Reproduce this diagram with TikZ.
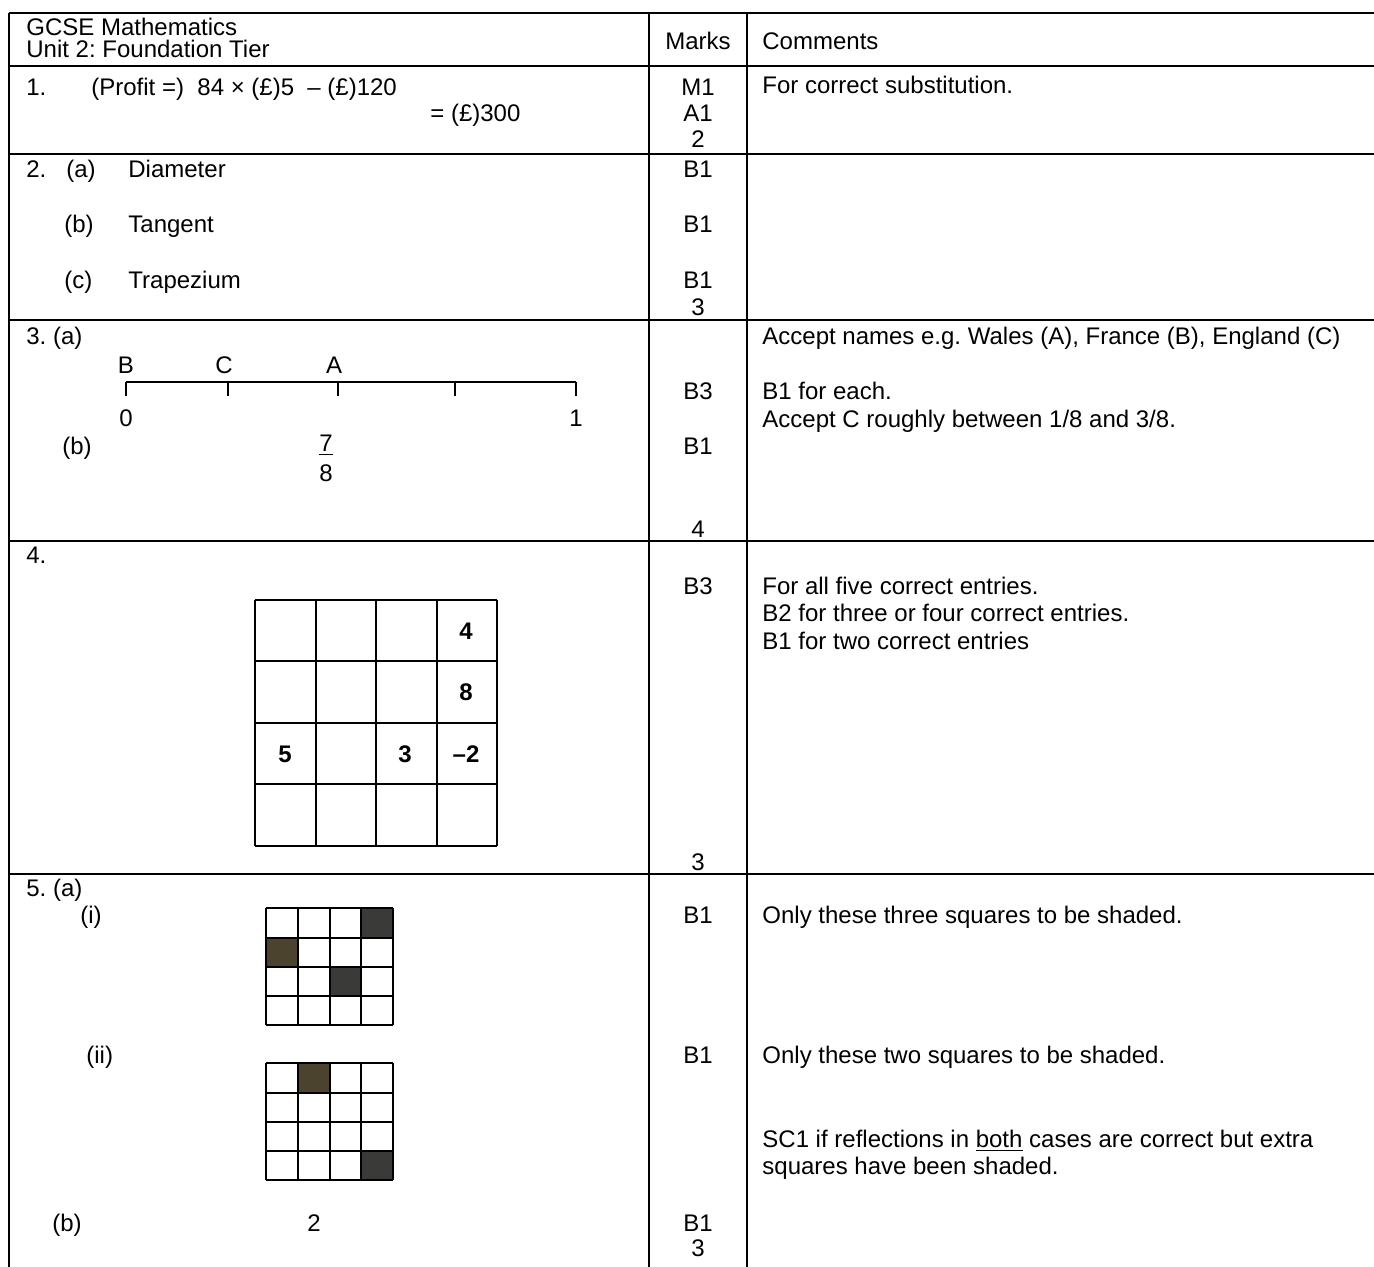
\documentclass[tikz,border=0pt]{standalone}
\usepackage{fontspec}
\setmainfont{Liberation Sans}
\usetikzlibrary{positioning}
\frenchspacing
\definecolor{darksq}{HTML}{3A3A38}
\definecolor{olivesq}{HTML}{4B432D}
\tikzstyle{txt}=[inner sep=0pt,anchor=mid west,yshift=-1.5pt]
\tikzstyle{ctr}=[inner sep=0pt,anchor=mid,yshift=-1.5pt]
\tikzstyle{tabline}=[line width=1pt]
\newcommand{\markcell}[3]{\node[ctr] (#1) at (698,#2) {#3};}
\newcommand{\cmt}[3]{\node[txt] (#1) at (762,#2) {#3};}
\newcommand{\smallgrid}[1]{
    \foreach \gx in {266,298,330,361,393} \draw[tabline] (\gx,#1) -- (\gx,#1+117);
    \foreach \gy in {0,30,59,88,117} \draw[tabline] (266,#1+\gy) -- (393,#1+\gy);}

\begin{document}
\begin{tikzpicture}[x=0.5pt,y=-0.5pt,every node/.style={font=\fontsize{12}{14}\selectfont}]
    \useasboundingbox (0,0) rectangle (1374,1267);
    % table rules
    \foreach \ry in {13,66,154,320,541,874} \draw[tabline] (9,\ry) -- (1374,\ry);
    \foreach \rx in {9,649,747} \draw[tabline] (\rx,13) -- (\rx,1267);

    \node[txt] (title1) at (26,27) {GCSE Mathematics};
    \node[txt] (title2) at (26,49) {Unit 2: Foundation Tier};
    \markcell{hmarks}{41}{Marks}
    \cmt{hcomm}{41}{Comments}

    % question 1
    \node[txt] (q1) at (26,87) {1.};
    \node[txt] (q1work) at (91,87) {(Profit =)\ \ 84 × (£)5\ \ – (£)120};
    \node[txt] (q1ans) at (430,113) {= (£)300};
    \markcell{q1m}{87}{M1}
    \markcell{q1a}{113}{A1}
    \markcell{q1t}{139}{2}
    \cmt{q1c}{85}{For correct substitution.}

    % question 2
    \node[txt] (q2) at (26,169) {2.};
    \node[txt] (q2a) at (66,169) {(a)};
    \node[txt] (q2aw) at (128,169) {Diameter};
    \node[txt] (q2b) at (64,224) {(b)};
    \node[txt] (q2bw) at (128,224) {Tangent};
    \node[txt] (q2c) at (64,280) {(c)};
    \node[txt] (q2cw) at (128,280) {Trapezium};
    \markcell{q2am}{169}{B1}
    \markcell{q2bm}{224}{B1}
    \markcell{q2cm}{280}{B1}
    \markcell{q2t}{307}{3}

    % question 3
    \node[txt] (q3) at (26,336) {3. (a)};
    \coordinate (nl0) at (126,382);
    \coordinate (nl1) at (576,382);
    \draw[line width=0.8pt] (nl0) -- (nl1);
    \foreach \tx in {126,228,338,455,576} \draw[line width=0.8pt] (\tx,382) -- (\tx,396);
    \node[ctr] (ptB) at (126,365) {B};
    \node[ctr] (ptC) at (224,365) {C};
    \node[ctr] (ptA) at (334,365) {A};
    \node[ctr] (lab0) at (126,418) {0};
    \node[ctr] (lab1) at (576,418) {1};
    \node[txt] (q3b) at (62,446) {(b)};
    \node[ctr] (q3num) at (326,443) {\underline{7}};
    \node[ctr] (q3den) at (326,473) {8};
    \markcell{q3am}{391}{B3}
    \markcell{q3bm}{446}{B1}
    \markcell{q3t}{529}{4}
    \cmt{q3c1}{336}{Accept names e.g. Wales (A), France (B), England (C)}
    \cmt{q3c2}{391}{B1 for each.}
    \cmt{q3c3}{419}{Accept C roughly between 1/8 and 3/8.}

    % question 4
    \node[txt] (q4) at (26,555) {4.};
    \foreach \gx in {255,316,376,437,497} \draw[tabline] (\gx,600) -- (\gx,846);
    \foreach \gy in {600,661,723,784,846} \draw[tabline] (255,\gy) -- (497,\gy);
    \node[ctr,font=\fontsize{12}{14}\selectfont\bfseries] (sq4) at (466,631) {4};
    \node[ctr,font=\fontsize{12}{14}\selectfont\bfseries] (sq8) at (466,692) {8};
    \node[ctr,font=\fontsize{12}{14}\selectfont\bfseries] (sq5) at (285,754) {5};
    \node[ctr,font=\fontsize{12}{14}\selectfont\bfseries] (sq3) at (405,754) {3};
    \node[ctr,font=\fontsize{12}{14}\selectfont\bfseries] (sqm2) at (466,754) {–2};
    \markcell{q4m}{586}{B3}
    \markcell{q4t}{862}{3}
    \cmt{q4c1}{586}{For all five correct entries.}
    \cmt{q4c2}{613}{B2 for three or four correct entries.}
    \cmt{q4c3}{641}{B1 for two correct entries}

    % question 5
    \node[txt] (q5) at (26,888) {5. (a)};
    \node[txt] (q5i) at (80,915) {(i)};
    \fill[darksq] (361,908) rectangle (393,938);
    \fill[olivesq] (266,938) rectangle (298,967);
    \fill[darksq] (330,967) rectangle (361,996);
    \smallgrid{908}
    \node[txt] (q5ii) at (86,1055) {(ii)};
    \fill[olivesq] (298,1063) rectangle (330,1093);
    \fill[darksq] (361,1151) rectangle (393,1180);
    \smallgrid{1063}
    \node[txt] (q5b) at (52,1223) {(b)};
    \node[ctr] (q5bw) at (314,1223) {2};
    \markcell{q5im}{915}{B1}
    \markcell{q5iim}{1055}{B1}
    \markcell{q5bm}{1223}{B1}
    \markcell{q5t}{1248}{3}
    \cmt{q5c1}{915}{Only these three squares to be shaded.}
    \cmt{q5c2}{1055}{Only these two squares to be shaded.}
    \cmt{q5c3}{1139}{SC1 if reflections in \underline{both} cases are correct but extra}
    \cmt{q5c4}{1166}{squares have been shaded.}
\end{tikzpicture}
\end{document}
